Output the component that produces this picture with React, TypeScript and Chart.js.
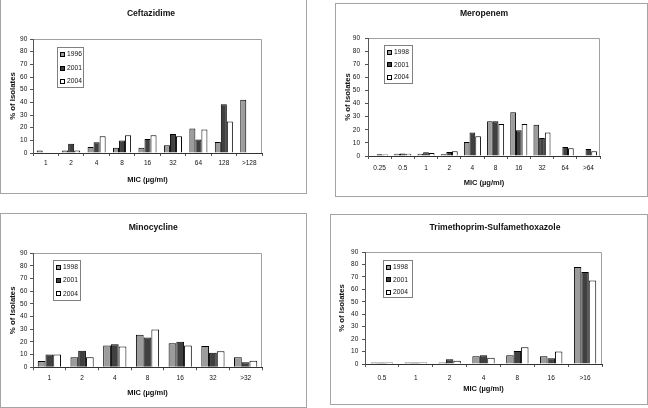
import React, { useEffect, useRef } from 'react';
import { Chart, registerables } from 'chart.js';

Chart.register(...registerables);

const FONT = "'Liberation Sans', Arial, Helvetica, sans-serif";

// ---- Data (null = no bar drawn) ----
const cefTitle = 'Ceftazidime';
const cefLabels = ['1', '2', '4', '8', '16', '32', '64', '128', '>128'];
const cefYears = ['1996', '2001', '2004'];
const cefA = [2, 2, 4.7, 4.2, 4.2, 6.1, 19.3, 8.7, 42];
const cefB = [null, 7.4, 8.4, 9.8, 11.1, 15, 10.6, 38.5, null];
const cefC = [null, 2, 13.2, 14, 14, 13.2, 18.5, 24.8, null];

const merTitle = 'Meropenem';
const merLabels = ['0.25', '0.5', '1', '2', '4', '8', '16', '32', '64', '>64'];
const merYears = ['1998', '2001', '2004'];
const merA = [null, 1.8, 1.8, 1.3, 10.7, 26.5, 33.3, 23.9, null, null];
const merB = [1.3, 2, 2.8, 3, 18, 26.5, 19.6, 13.7, 6.9, 5.3];
const merC = [0.5, 1.8, 2.3, 3.6, 15, 24.4, 24.4, 18, 5.9, 3.6];

const minTitle = 'Minocycline';
const minLabels = ['1', '2', '4', '8', '16', '32', '>32'];
const minYears = ['1998', '2001', '2004'];
const minA = [5, 7.9, 17.3, 25.7, 18.9, 16.8, 7.9];
const minB = [10.2, 13.1, 18.1, 23.6, 20.2, 11.5, 3.9];
const minC = [10.2, 7.9, 16.5, 29.9, 17.3, 12.6, 5.2];

const tmpTitle = 'Trimethoprim-Sulfamethoxazole';
const tmpLabels = ['0.5', '1', '2', '4', '8', '16', '>16'];
const tmpYears = ['1998', '2001', '2004'];
const tmpA = [0.5, 1.1, 1.3, 6.2, 7, 6.2, 78];
const tmpB = [0.5, 0.5, 3.8, 7, 10.5, 4.6, 74];
const tmpC = [0.3, 1.1, 2.7, 5.1, 13.4, 10, 67];

const yTicksMax = 90;
const yTicksStep = 10;
const xAxisTitle = 'MIC (µg/ml)';
const yAxisTitle = '% of Isolates';

const COLORS = ['#9c9c9c', '#404040', '#ffffff'];

type Legend = { dx: number; dy: number; w: number; h: number; first: number; step: number };
type Panel = {
  title: string; labels: string[]; years: string[]; series: (number | null)[][];
  L: number; T: number; W: number; H: number;
  plotLeft: number; plotRight: number; plotTop: number; plotBottom: number;
  yTickPad: number; xTickPad: number; xTitlePadBottom: number; yTitlePadTop: number;
  titleX: number; titleY: number; cat: number; legend: Legend;
};

const panels: Panel[] = [
  {
    title: cefTitle, labels: cefLabels, years: cefYears, series: [cefA, cefB, cefC],
    L: 0, T: -3, W: 307, H: 197,
    plotLeft: 33, plotRight: 262, plotTop: 42, plotBottom: 156,
    yTickPad: 2.7, xTickPad: 3.4, xTitlePadBottom: 9.2, yTitlePadTop: 8.6,
    titleX: 151, titleY: 16.3, cat: 0.71,
    legend: { dx: 24, dy: 8, w: 26, h: 40, first: 7, step: 13.5 },
  },
  {
    title: merTitle, labels: merLabels, years: merYears, series: [merA, merB, merC],
    L: 335, T: 3, W: 313, H: 194,
    plotLeft: 33, plotRight: 265, plotTop: 35, plotBottom: 153,
    yTickPad: 5, xTickPad: 5.4, xTitlePadBottom: 9.8, yTitlePadTop: 8.6,
    titleX: 149, titleY: 10.3, cat: 0.735,
    legend: { dx: 16, dy: 7, w: 28, h: 38, first: 6.7, step: 12.5 },
  },
  {
    title: minTitle, labels: minLabels, years: minYears, series: [minA, minB, minC],
    L: 0, T: 213, W: 307, H: 195,
    plotLeft: 33, plotRight: 262, plotTop: 40.3, plotBottom: 154.3,
    yTickPad: 2.7, xTickPad: 4.1, xTitlePadBottom: 10.2, yTitlePadTop: 8.6,
    titleX: 153.3, titleY: 14.7, cat: 0.71,
    legend: { dx: 20, dy: 7, w: 27, h: 40, first: 6.7, step: 13.3 },
  },
  {
    title: tmpTitle, labels: tmpLabels, years: tmpYears, series: [tmpA, tmpB, tmpC],
    L: 330, T: 214, W: 318, H: 191,
    plotLeft: 35, plotRight: 272, plotTop: 38, plotBottom: 150,
    yTickPad: 3.7, xTickPad: 7.1, xTitlePadBottom: 11.2, yTitlePadTop: 7,
    titleX: 165, titleY: 13.7, cat: 0.66,
    legend: { dx: 18, dy: 8, w: 29, h: 37, first: 6.7, step: 12.5 },
  },
];

const decor = {
  id: 'decor',
  beforeDraw(chart: any) {
    const { ctx, chartArea: a } = chart;
    ctx.save();
    ctx.fillStyle = '#ffffff';
    ctx.fillRect(0, 0, chart.width, chart.height);
    ctx.strokeStyle = '#a4a4a4';
    ctx.lineWidth = 1;
    ctx.strokeRect(0.5, 0.5, chart.width - 1, chart.height - 1);
    ctx.strokeStyle = '#a0a0a0';
    ctx.beginPath();
    ctx.moveTo(a.left, Math.round(a.top) + 0.5);
    ctx.lineTo(Math.round(a.right) - 0.5, Math.round(a.top) + 0.5);
    ctx.lineTo(Math.round(a.right) - 0.5, a.bottom);
    ctx.stroke();
    ctx.restore();
  },
  afterDraw(chart: any, _args: any, opts: any) {
    const { ctx, chartArea: a } = chart;
    ctx.save();
    ctx.fillStyle = '#111';
    ctx.font = `bold 8.6px ${FONT}`;
    ctx.textAlign = 'center';
    ctx.textBaseline = 'middle';
    ctx.fillText(opts.title, opts.titleX, opts.titleY);

    const lg: Legend = opts.legend;
    const lx = Math.round(a.left + lg.dx) + 0.5;
    const ly = Math.round(a.top + lg.dy) + 0.5;
    ctx.fillStyle = '#fff';
    ctx.fillRect(lx, ly, lg.w, lg.h);
    ctx.strokeStyle = '#808080';
    ctx.strokeRect(lx, ly, lg.w, lg.h);
    ctx.font = `6.7px ${FONT}`;
    ctx.textAlign = 'left';
    chart.data.datasets.forEach((ds: any, i: number) => {
      const y = ly + lg.first + i * lg.step;
      const sy = Math.round(y - 2.5) + 0.5;
      ctx.fillStyle = ds.backgroundColor;
      ctx.fillRect(lx + 3, sy, 4, 4);
      ctx.strokeStyle = '#000';
      ctx.strokeRect(lx + 3, sy, 4, 4);
      ctx.fillStyle = '#111';
      ctx.fillText(ds.label, lx + 9.5, y);
    });
    ctx.restore();
  },
};

function PanelChart({ p }: { p: Panel }) {
  const ref = useRef<HTMLCanvasElement>(null);
  useEffect(() => {
    const chart = new Chart(ref.current as HTMLCanvasElement, {
      type: 'bar',
      data: {
        labels: p.labels,
        datasets: p.series.map((s, i) => ({
          label: p.years[i],
          data: s,
          backgroundColor: COLORS[i],
          borderColor: '#000000',
          borderWidth: 1,
          minBarLength: 1.5,
          categoryPercentage: p.cat,
          barPercentage: 1,
        })),
      },
      options: {
        responsive: false,
        animation: false,
        events: [],
        layout: { padding: { left: 0, right: p.W - p.plotRight, top: p.plotTop, bottom: 0 } },
        plugins: {
          legend: { display: false },
          title: { display: false },
          tooltip: { enabled: false },
          decor: { title: p.title, titleX: p.titleX, titleY: p.titleY, legend: p.legend },
        } as any,
        scales: {
          x: {
            grid: { display: true, drawOnChartArea: false, offset: true, tickLength: 3, color: '#555' },
            border: { display: true, color: '#333', width: 1 },
            ticks: { padding: p.xTickPad, color: '#111', font: { family: FONT, size: 6.5 }, maxRotation: 0, autoSkip: false },
            title: {
              display: true, text: xAxisTitle, color: '#111',
              font: { family: FONT, size: 7.5, weight: 'bold' },
              padding: { top: 0, bottom: p.xTitlePadBottom },
            },
            afterFit: (s: any) => { s.height = p.H - p.plotBottom; },
          },
          y: {
            min: 0,
            max: yTicksMax,
            grid: { display: true, drawOnChartArea: false, tickLength: 3, color: '#555' },
            border: { display: true, color: '#555', width: 1 },
            ticks: { stepSize: yTicksStep, padding: p.yTickPad, color: '#111', font: { family: FONT, size: 6.5 } },
            title: {
              display: true, text: yAxisTitle, color: '#111',
              font: { family: FONT, size: 7.8, weight: 'bold' },
              padding: { top: p.yTitlePadTop, bottom: 0 },
            },
            afterFit: (s: any) => { s.width = p.plotLeft; },
          },
        },
      } as any,
      plugins: [decor as any],
    });
    return () => chart.destroy();
  }, [p]);
  return (
    <div style={{ position: 'absolute', left: p.L, top: p.T, width: p.W, height: p.H }}>
      <canvas ref={ref} width={p.W} height={p.H} style={{ display: 'block', width: p.W, height: p.H }} />
    </div>
  );
}

export default function App() {
  return (
    <div style={{ position: 'absolute', left: 0, top: 0, width: 648, height: 408, background: '#fff', overflow: 'hidden' }}>
      {panels.map((p, i) => <PanelChart key={i} p={p} />)}
    </div>
  );
}
